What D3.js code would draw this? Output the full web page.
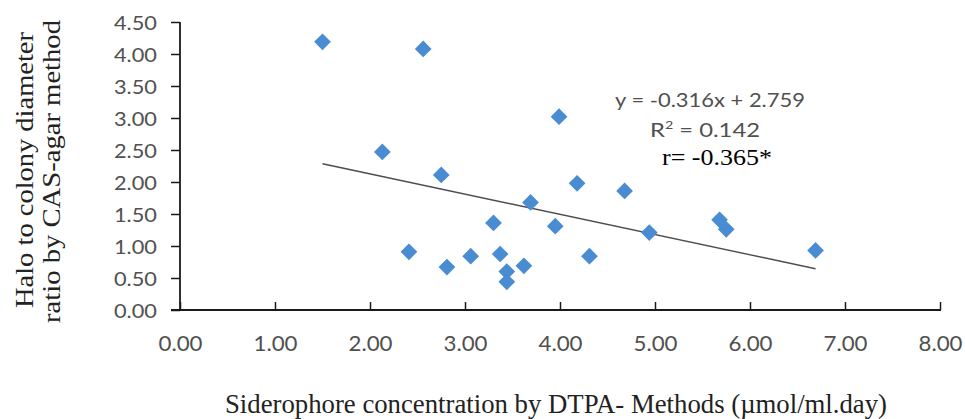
<!DOCTYPE html>
<html><head><meta charset="utf-8">
<script src="https://cdn.jsdelivr.net/npm/d3@7"></script>
<style>body{margin:0;background:#fff}</style>
</head><body>
<svg id="c" width="965" height="419"></svg>
<script>
const xVals = [1.50, 2.56, 3.99, 2.13, 2.75, 4.18, 4.68, 3.69, 3.30, 3.95, 4.94, 2.41, 3.06, 3.37, 4.31, 2.81, 3.62, 3.44, 3.44, 5.68, 5.75, 6.69];
const yVals = [4.19, 4.08, 3.02, 2.47, 2.11, 1.98, 1.86, 1.68, 1.36, 1.31, 1.21, 0.91, 0.84, 0.875, 0.84, 0.67, 0.69, 0.60, 0.44, 1.41, 1.26, 0.93];
const xTicks = [0,1,2,3,4,5,6,7,8];
const yTicks = [0,0.5,1,1.5,2,2.5,3,3.5,4,4.5];
const slope = -0.316, intercept = 2.759;
const eqLabel = "y = -0.316x + 2.759";
const r2Label = "0.142";
const rLabel = "r= -0.365*";
const xTitle = "Siderophore concentration by DTPA- Methods (\u00b5mol/ml.day)";
const yTitle1 = "Halo to colony diameter";
const yTitle2 = "ratio by CAS-agar method";

const svg = d3.select("#c");
const x = d3.scaleLinear().domain([0,8]).range([180,940]);
const y = d3.scaleLinear().domain([0,4.5]).range([310,22]);
const sans = "Lato, Open Sans, sans-serif";
const serif = "Liberation Serif, Times New Roman, serif";
const grey = "#505050";
const axisCol = "#1a1a1a";

// y axis
const ya = svg.append("g").attr("transform","translate(180,0)")
  .call(d3.axisLeft(y).tickValues(yTicks).tickFormat(d3.format(".2f")).tickSize(9).tickPadding(14));
ya.select(".domain").attr("stroke",axisCol).attr("stroke-width",1.8).attr("d","M0,22V310");
ya.selectAll(".tick line").attr("stroke",axisCol).attr("stroke-width",1.5);
ya.selectAll(".tick text").attr("font-family",sans).attr("font-size",19.5).attr("fill",grey)
  .attr("dy","0.36em").attr("x",-23).attr("textLength",43).attr("lengthAdjust","spacingAndGlyphs");

// x axis
const xa = svg.append("g").attr("transform","translate(0,310)")
  .call(d3.axisBottom(x).tickValues(xTicks).tickFormat(d3.format(".2f")).tickSize(-8).tickPadding(0));
xa.select(".domain").attr("stroke",axisCol).attr("stroke-width",1.8).attr("d","M171,0H941");
xa.selectAll(".tick line").attr("stroke",axisCol).attr("stroke-width",1.5);
xa.selectAll(".tick text").attr("font-family",sans).attr("font-size",21.5).attr("fill",grey)
  .attr("y",41).attr("dy",0).attr("textLength",44).attr("lengthAdjust","spacingAndGlyphs");

// trend line
const xmin = d3.min(xVals), xmax = d3.max(xVals);
svg.append("line")
  .attr("x1",x(xmin)).attr("y1",y(slope*xmin+intercept))
  .attr("x2",x(xmax)).attr("y2",y(slope*xmax+intercept))
  .attr("stroke","#4d4d4d").attr("stroke-width",1.4);

// points
svg.append("g").selectAll("path").data(xVals.map((v,i)=>[v,yVals[i]])).join("path")
  .attr("transform",d=>`translate(${x(d[0])},${y(d[1])}) rotate(45)`)
  .attr("d", d3.symbol().type(d3.symbolSquare).size(140)())
  .attr("fill","#4a8cd2");

// annotations
svg.append("text").attr("x",615).attr("y",107)
  .attr("font-family",sans).attr("font-size",19).attr("fill",grey)
  .attr("textLength",190).attr("lengthAdjust","spacingAndGlyphs").text(eqLabel);
const r2 = svg.append("text").attr("x",650).attr("y",137)
  .attr("font-family",sans).attr("font-size",20).attr("fill",grey)
  .attr("textLength",110).attr("lengthAdjust","spacingAndGlyphs");
r2.append("tspan").text("R");
r2.append("tspan").attr("font-size",12).attr("dy",-8).text("2");
r2.append("tspan").attr("dy",8).text(" = " + r2Label);
svg.append("text").attr("x",662).attr("y",165)
  .attr("font-family",serif).attr("font-size",23.5).attr("fill","#000")
  .attr("textLength",110).attr("lengthAdjust","spacingAndGlyphs").text(rLabel);

// titles
svg.append("text").attr("x",225).attr("y",413)
  .attr("font-family",serif).attr("font-size",28).attr("fill","#222")
  .attr("textLength",662).attr("lengthAdjust","spacingAndGlyphs").text(xTitle);
svg.append("text").attr("transform","translate(33,308) rotate(-90)")
  .attr("font-family",serif).attr("font-size",26).attr("fill","#222")
  .attr("textLength",276).attr("lengthAdjust","spacingAndGlyphs").text(yTitle1);
svg.append("text").attr("transform","translate(60,323) rotate(-90)")
  .attr("font-family",serif).attr("font-size",26).attr("fill","#222")
  .attr("textLength",303).attr("lengthAdjust","spacingAndGlyphs").text(yTitle2);
</script>
</body></html>
